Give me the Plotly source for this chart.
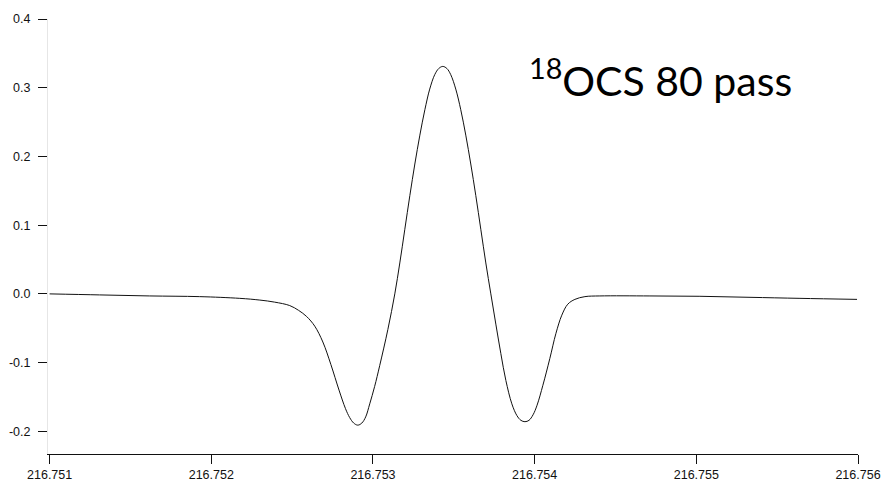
import plotly.graph_objects as go

# Frequency and signal values
freq = [216.751000, 216.751309, 216.751619, 216.751928, 216.752176, 216.752300,
        216.752392, 216.752485, 216.752540, 216.752590, 216.752640, 216.752690,
        216.752740, 216.752790, 216.752830, 216.752856, 216.752881, 216.752906,
        216.752931, 216.752955, 216.752980, 216.753010, 216.753042, 216.753092,
        216.753135, 216.753166, 216.753197, 216.753228, 216.753259, 216.753290,
        216.753321, 216.753351, 216.753382, 216.753407, 216.753432, 216.753457,
        216.753481, 216.753512, 216.753543, 216.753574, 216.753605, 216.753636,
        216.753667, 216.753698, 216.753729, 216.753760, 216.753791, 216.753822,
        216.753859, 216.753890, 216.753915, 216.753940, 216.753965, 216.753990,
        216.754015, 216.754051, 216.754094, 216.754131, 216.754168, 216.754205,
        216.754249, 216.754311, 216.754403, 216.754713, 216.755022, 216.755332,
        216.755641, 216.755994]
signal = [0.000, -0.0015, -0.003, -0.004, -0.0065, -0.009,
          -0.012, -0.017, -0.024, -0.033, -0.047, -0.070,
          -0.103, -0.140, -0.167, -0.180, -0.188, -0.191,
          -0.188, -0.179, -0.160, -0.135, -0.104, -0.052,
          0.000, 0.045, 0.094, 0.143, 0.189, 0.231,
          0.268, 0.298, 0.319, 0.328, 0.331, 0.328,
          0.319, 0.298, 0.268, 0.231, 0.189, 0.143,
          0.094, 0.045, 0.000, -0.044, -0.087, -0.126,
          -0.160, -0.177, -0.184, -0.186, -0.184, -0.176,
          -0.162, -0.133, -0.094, -0.058, -0.031, -0.015,
          -0.008, -0.004, -0.003, -0.003, -0.0035, -0.005,
          -0.0065, -0.008]

x_ticks = [216.751, 216.752, 216.753, 216.754, 216.755, 216.756]
x_tick_labels = ["216.751", "216.752", "216.753", "216.754", "216.755", "216.756"]
y_ticks = [-0.2, -0.1, 0.0, 0.1, 0.2, 0.3, 0.4]
y_tick_labels = ["-0.2", "-0.1", "0.0", "0.1", "0.2", "0.3", "0.4"]

fig = go.Figure()
fig.add_trace(go.Scatter(
    x=freq, y=signal, mode="lines",
    line=dict(color="#111111", width=1, shape="spline", smoothing=1.0),
    hoverinfo="skip", showlegend=False,
))

tick_font = dict(family="Liberation Sans, Arial, sans-serif", size=12.5, color="#111111")

fig.update_layout(
    width=883, height=485,
    margin=dict(l=48, r=25, t=19, b=31),
    paper_bgcolor="white", plot_bgcolor="white",
    xaxis=dict(
        range=[216.75099, 216.756], tickvals=x_ticks, ticktext=x_tick_labels,
        showgrid=False, zeroline=False, showline=True, linecolor="#111111", linewidth=1,
        ticks="outside", ticklen=9, tickcolor="#111111", tickwidth=1, tickfont=tick_font,
        automargin=False,
    ),
    yaxis=dict(
        range=[-0.233, 0.4], tickvals=y_ticks, ticktext=y_tick_labels,
        showgrid=False, zeroline=False, showline=True, linecolor="#e6e6e6", linewidth=1,
        ticks="outside", ticklen=9, tickcolor="#111111", tickwidth=1, tickfont=tick_font,
        ticklabelstandoff=5, automargin=False,
    ),
    annotations=[dict(
        text="<sup>18</sup>OCS 80 pass", xref="paper", yref="paper",
        x=0.591, y=0.864, xanchor="left", yanchor="middle", showarrow=False,
        font=dict(family="Lato, Open Sans, sans-serif", size=41, color="black"),
    )],
)

fig.write_html(
    "out.html",
    config={"displayModeBar": False},
    post_script="document.body.style.margin='0';document.body.style.overflow='hidden';",
)
